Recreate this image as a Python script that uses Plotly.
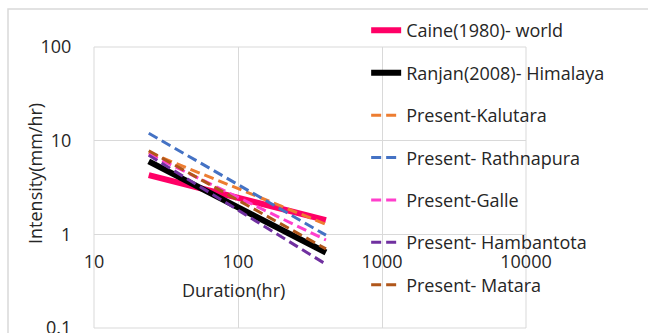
import plotly.graph_objects as go

# Rainfall intensity-duration thresholds (log-log)
duration = [24, 408]

series_names = [
    "Caine(1980)- world",
    "Ranjan(2008)- Himalaya",
    "Present-Kalutara",
    "Present- Rathnapura",
    "Present-Galle",
    "Present- Hambantota",
    "Present- Matara",
]
caine = [4.29, 1.42]
ranjan = [6.0, 0.64]
kalutara = [7.5, 1.28]
rathnapura = [12.0, 0.98]
galle = [7.2, 0.87]
hambantota = [7.0, 0.48]
matara = [7.8, 0.70]

x_ticks = [10, 100, 1000, 10000]
y_ticks = [0.1, 1, 10, 100]

series_values = [caine, ranjan, kalutara, rathnapura, galle, hambantota, matara]
colors = ["#FF0066", "#000000", "#ED7D31", "#4472C4", "#FF3FCC", "#7030A0", "#B0561A"]
solid = [True, True, False, False, False, False, False]

FONT = "Open Sans"
TXT = "#262626"

fig = go.Figure()
for i, (name, vals) in enumerate(zip(series_names, series_values)):
    fig.add_trace(go.Scatter(
        x=duration, y=vals, name=name, mode="lines",
        legendgroup=f"g{i}",
        line=dict(color=colors[i], width=6 if solid[i] else 3,
                  dash="solid" if solid[i] else "10px,5px"),
        hoverinfo="skip",
    ))

grid = "#D9D9D9"
fig.update_layout(
    width=648, height=333,
    margin=dict(l=94, r=122, t=47, b=5),
    paper_bgcolor="white", plot_bgcolor="white",
    font=dict(family=FONT, size=18, color=TXT),
    showlegend=True,
    legend=dict(
        x=0.63, xanchor="left", y=1.124, yanchor="top",
        bgcolor="rgba(0,0,0,0)", traceorder="grouped",
        tracegroupgap=16, maxheight=600,
        font=dict(family=FONT, size=18, color=TXT),
    ),
    xaxis=dict(
        type="log", range=[1, 4], tickvals=x_ticks,
        ticktext=[str(v) for v in x_ticks],
        showgrid=True, gridcolor=grid, gridwidth=1,
        showline=False, zeroline=False, automargin=False,
        anchor="free", position=1 / 3,
        ticks="outside", ticklen=11, tickcolor="rgba(0,0,0,0)",
    ),
    yaxis=dict(
        type="log", range=[-1, 2], tickvals=y_ticks,
        ticktext=["0.1", "1", "10", "100"],
        showgrid=True, gridcolor=grid, gridwidth=1,
        showline=False, zeroline=False, automargin=False,
        ticklabeloverflow="allow",
        ticks="outside", ticklen=18, tickcolor="rgba(0,0,0,0)",
    ),
    shapes=[
        dict(type="rect", xref="paper", yref="paper", x0=0, x1=1, y0=0, y1=1,
             line=dict(color=grid, width=1), layer="below"),
        dict(type="rect", xref="paper", yref="paper",
             x0=(8 - 94) / 432, x1=1.4, y0=-0.2, y1=(328 - 9) / 281,
             line=dict(color=grid, width=1.5), layer="below"),
    ],
    annotations=[
        dict(text="Intensity(mm/hr)", xref="paper", yref="paper",
             x=(35 - 94) / 432, y=(328 - 174) / 281, textangle=-90,
             showarrow=False, xanchor="center", yanchor="middle",
             font=dict(family=FONT, size=18, color=TXT)),
        dict(text="Duration(hr)", xref="paper", yref="paper",
             x=(233 - 94) / 432, y=(328 - 290) / 281,
             showarrow=False, xanchor="center", yanchor="middle",
             font=dict(family=FONT, size=18, color=TXT)),
    ],
)

fig.write_html("out.html")
